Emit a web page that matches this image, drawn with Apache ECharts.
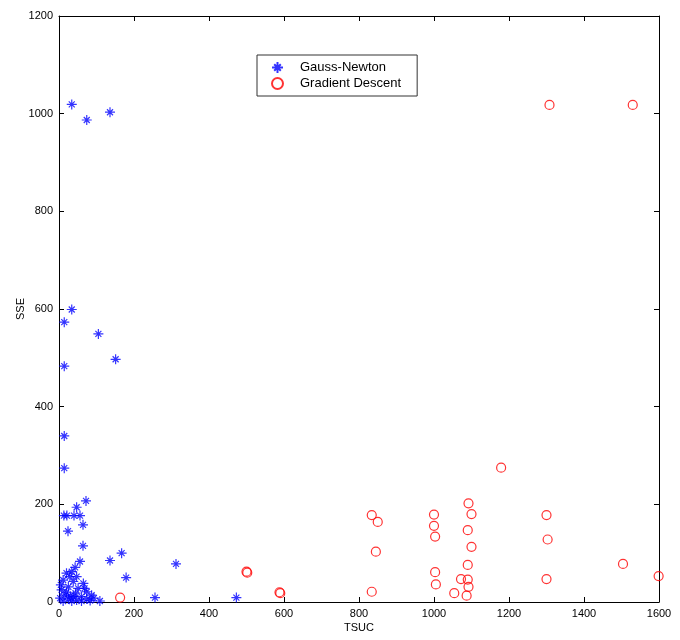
<!DOCTYPE html>
<html>
<head>
<meta charset="utf-8">
<title>SSE vs TSUC</title>
<script src="https://cdn.jsdelivr.net/npm/echarts@6/dist/echarts.min.js"></script>
<style>
  html, body { margin: 0; padding: 0; background: #fff; }
  #chart { width: 680px; height: 640px; }
</style>
</head>
<body>
<div id="chart"></div>
<script>
// ---- DATA ([TSUC, SSE]) ----
const gaussNewton = [
  [34, 1019], [74, 987], [136, 1003],
  [34, 599], [14, 573], [105, 549], [151, 497], [14, 483], [14, 340], [14, 274],
  [72, 207], [47, 194], [13, 177], [21, 177], [40, 177], [56, 177],
  [64, 158], [24, 145], [64, 115], [136, 85], [167, 100], [179, 50], [312, 78],
  [256, 9], [473, 9], [109, 2],
  [56, 83], [43, 71], [34, 62], [20, 59], [29, 52], [47, 52], [11, 45], [38, 42],
  [65, 38], [25, 31], [51, 28], [7, 25], [74, 21], [87, 14], [16, 14], [38, 11],
  [60, 11], [3, 8], [25, 6], [47, 4], [74, 6], [11, 2], [34, 2], [60, 2], [83, 3],
  [20, 20], [5, 35], [44, 18], [68, 28], [93, 8], [30, 12]
];
const gradientDescent = [
  [834, 178], [850, 164], [845, 103], [834, 21],
  [1000, 179], [1000, 156], [1003, 134], [1003, 61], [1005, 36],
  [1092, 202], [1100, 180], [1090, 147], [1100, 113], [1090, 76],
  [1072, 47], [1090, 46], [1092, 31], [1054, 18], [1087, 13],
  [1300, 178], [1303, 128], [1300, 47], [1504, 78], [1599, 53],
  [1179, 275], [1308, 1018], [1530, 1018],
  [500, 62], [502, 60], [588, 20], [590, 18], [163, 9]
];
const xRange = [0, 1600];
const yRange = [0, 1200];
const tickStep = 200;

// MATLAB-style asterisk marker
const STAR = 'path://M0,-10L0,10M-10,0L10,0M-6,-6L6,6M-6,6L6,-6';

const font = 'Liberation Sans, Arial, sans-serif';

function boxAxis(type, pos, withLabels, range, name) {
  return {
    type: 'value',
    position: pos,
    min: range[0], max: range[1], interval: tickStep,
    name: withLabels ? name : '',
    nameLocation: 'middle',
    nameGap: type === 'x' ? 20 : 33,
    nameMoveOverlap: false,
    nameTextStyle: { color: '#000', fontFamily: font, fontSize: 11 },
    axisLine: { show: true, onZero: false, lineStyle: { color: '#000', width: 1 } },
    axisTick: { show: true, inside: true, length: 5, lineStyle: { color: '#000' } },
    axisLabel: {
      show: withLabels, color: '#000', fontFamily: font, fontSize: 11, margin: 6,
      formatter: v => String(v)
    },
    splitLine: { show: false }
  };
}

const chart = echarts.init(document.getElementById('chart'), null, { renderer: 'canvas' });
chart.setOption({
  backgroundColor: '#fff',
  animation: false,
  grid: { left: 59, right: 21, top: 16, bottom: 38, containLabel: false, outerBoundsMode: 'none' },
  xAxis: [
    boxAxis('x', 'bottom', true, xRange, 'TSUC'),
    boxAxis('x', 'top', false, xRange, '')
  ],
  yAxis: [
    boxAxis('y', 'left', true, yRange, 'SSE'),
    boxAxis('y', 'right', false, yRange, '')
  ],
  legend: {
    orient: 'vertical',
    left: 257, top: 55,
    padding: [6, 16, 6, 14],
    itemGap: 3,
    itemWidth: 11, itemHeight: 11,
    borderColor: '#333', borderWidth: 1,
    backgroundColor: '#fff',
    textStyle: { color: '#000', fontFamily: font, fontSize: 13, padding: [0, 0, 0, 12] },
    data: ['Gauss-Newton', 'Gradient Descent']
  },
  series: [
    {
      name: 'Gauss-Newton',
      type: 'scatter',
      data: gaussNewton,
      symbol: STAR,
      symbolSize: 10,
      itemStyle: { color: 'transparent', borderColor: '#0000ff', borderWidth: 1.2 }
    },
    {
      name: 'Gradient Descent',
      type: 'scatter',
      data: gradientDescent,
      symbol: 'circle',
      symbolSize: 9,
      itemStyle: { color: 'transparent', borderColor: '#ff0000', borderWidth: 1.2 }
    }
  ]
});
</script>
</body>
</html>
